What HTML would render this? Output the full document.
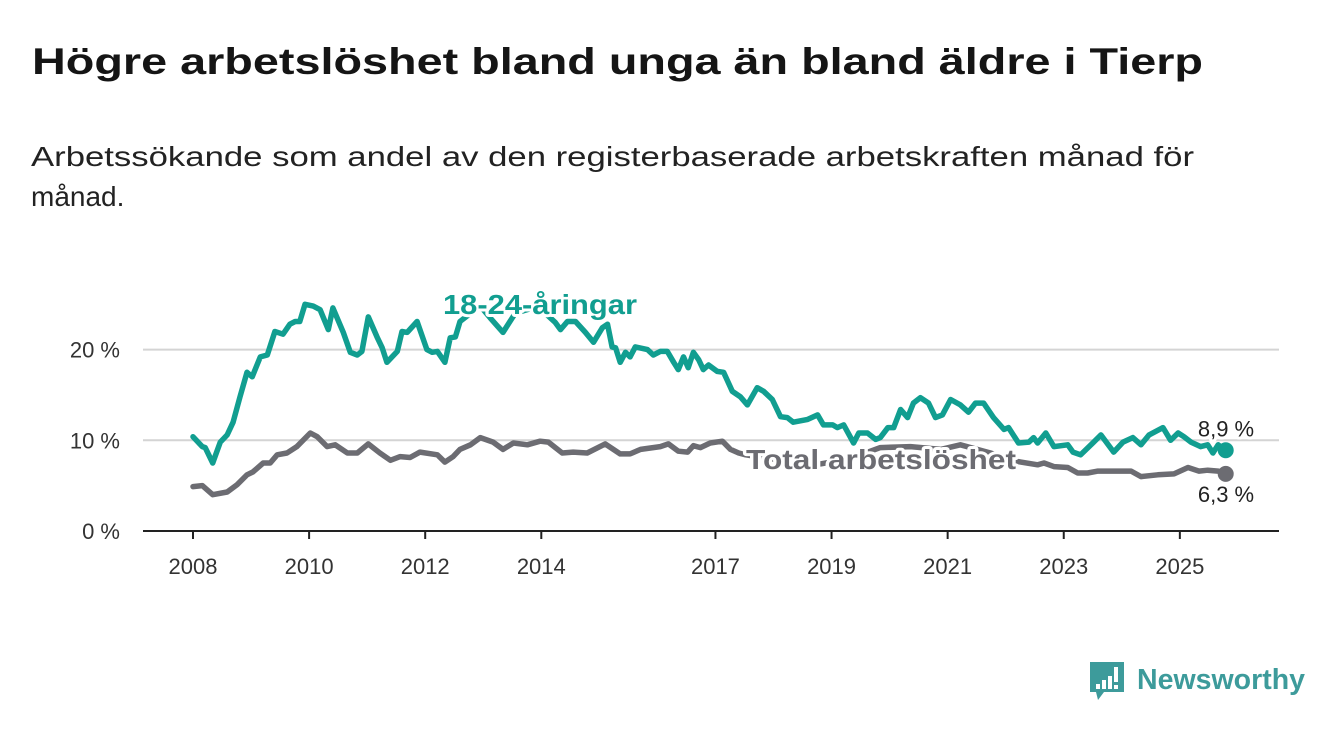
<!DOCTYPE html>
<html><head><meta charset="utf-8">
<style>
body{margin:0;background:#fff;font-family:"Liberation Sans",sans-serif;}
svg{display:block}
</style></head>
<body>
<svg id="chart" width="1340" height="734" viewBox="0 0 1340 734">
  <text x="32" y="74" font-size="37" font-weight="bold" fill="#151515" textLength="1171" lengthAdjust="spacingAndGlyphs">Högre arbetslöshet bland unga än bland äldre i Tierp</text>
  <text x="31" y="166" font-size="28" fill="#222" textLength="1163" lengthAdjust="spacingAndGlyphs">Arbetssökande som andel av den registerbaserade arbetskraften månad för</text>
  <text x="31" y="206" font-size="28" fill="#222">månad.</text>
  <g id="grid"></g>
  <g id="axes"></g>
  <g id="series"></g>
  <g id="labels"></g>
  <g>
    <path d="M1090 662 h34 v30 h-20 l-6 8 l-2 -8 h-6 z" fill="#3d9b9b"/>
    <rect x="1096" y="684" width="4" height="5" fill="#fff"/>
    <rect x="1102" y="680" width="4" height="9" fill="#fff"/>
    <rect x="1108" y="676" width="4" height="13" fill="#fff"/>
    <rect x="1114" y="667" width="4" height="15" fill="#fff"/>
    <rect x="1114" y="685" width="4" height="4" fill="#fff"/>
    <text x="1137" y="689" font-size="29" font-weight="bold" fill="#3d9b9b" textLength="168" lengthAdjust="spacingAndGlyphs">Newsworthy</text>
  </g>
</svg>
<script>
const yTicks = [0, 10, 20];
const xTicks = [2008, 2010, 2012, 2014, 2017, 2019, 2021, 2023, 2025];
const youthDates = [2008.00,2008.16,2008.21,2008.34,2008.47,2008.59,2008.69,2008.81,2008.93,2009.02,2009.16,2009.28,2009.41,2009.55,2009.67,2009.76,2009.84,2009.93,2010.07,2010.19,2010.33,2010.41,2010.59,2010.71,2010.83,2010.91,2011.02,2011.17,2011.26,2011.34,2011.52,2011.60,2011.69,2011.86,2012.03,2012.12,2012.21,2012.34,2012.43,2012.52,2012.60,2012.78,2012.95,2013.12,2013.34,2013.55,2013.81,2014.07,2014.24,2014.33,2014.45,2014.59,2014.76,2014.90,2015.05,2015.14,2015.22,2015.28,2015.36,2015.45,2015.53,2015.62,2015.83,2015.93,2016.05,2016.17,2016.28,2016.36,2016.45,2016.53,2016.62,2016.71,2016.79,2016.88,2017.03,2017.14,2017.29,2017.43,2017.55,2017.72,2017.83,2017.98,2018.12,2018.24,2018.34,2018.59,2018.76,2018.86,2019.02,2019.10,2019.21,2019.38,2019.47,2019.62,2019.76,2019.84,2019.97,2020.07,2020.19,2020.31,2020.41,2020.53,2020.67,2020.79,2020.91,2021.05,2021.22,2021.36,2021.48,2021.62,2021.79,2021.97,2022.05,2022.22,2022.40,2022.48,2022.55,2022.69,2022.83,2023.07,2023.16,2023.29,2023.50,2023.64,2023.86,2024.02,2024.19,2024.33,2024.47,2024.71,2024.84,2024.97,2025.07,2025.19,2025.36,2025.48,2025.57,2025.66,2025.79];
const youthValues = [10.4,9.3,9.2,7.5,9.8,10.6,12,14.8,17.5,17,19.2,19.4,22,21.7,22.8,23.1,23.1,25,24.8,24.4,22.2,24.6,21.9,19.7,19.4,19.8,23.6,21.4,20.2,18.6,19.8,22,21.9,23.1,20,19.7,19.8,18.6,21.3,21.4,23.1,24,24.8,23.5,21.9,24,24.5,24,23,22.2,23.1,23.1,21.9,20.8,22.4,22.8,20.3,20.2,18.6,19.7,19.2,20.3,20,19.4,19.8,19.8,18.6,17.8,19.2,18,19.7,18.9,17.8,18.3,17.6,17.5,15.4,14.8,13.9,15.8,15.4,14.5,12.6,12.5,12,12.3,12.8,11.7,11.7,11.4,11.7,9.7,10.8,10.8,10.1,10.3,11.4,11.4,13.4,12.5,14.1,14.7,14.1,12.5,12.8,14.5,13.9,13.1,14.1,14.1,12.5,11.2,11.4,9.7,9.8,10.3,9.7,10.8,9.3,9.5,8.7,8.4,9.7,10.6,8.7,9.8,10.3,9.5,10.6,11.4,10,10.8,10.4,9.8,9.3,9.5,8.6,9.5,8.9];
const totalDates = [2008.00,2008.16,2008.34,2008.59,2008.76,2008.93,2009.03,2009.21,2009.33,2009.45,2009.62,2009.79,2010.02,2010.14,2010.31,2010.45,2010.66,2010.83,2011.02,2011.22,2011.40,2011.57,2011.74,2011.91,2012.21,2012.34,2012.48,2012.60,2012.78,2012.95,2013.17,2013.34,2013.52,2013.76,2013.98,2014.12,2014.36,2014.55,2014.79,2015.10,2015.36,2015.53,2015.71,2016.05,2016.19,2016.36,2016.52,2016.62,2016.74,2016.91,2017.12,2017.26,2017.40,2017.52,2018.12,2018.81,2019.33,2019.84,2020.36,2020.88,2021.22,2021.74,2022.09,2022.26,2022.55,2022.66,2022.83,2023.07,2023.24,2023.41,2023.59,2023.86,2024.16,2024.33,2024.62,2024.90,2025.14,2025.33,2025.48,2025.66,2025.79];
const totalValues = [4.9,5.0,4.0,4.3,5.1,6.2,6.5,7.5,7.5,8.4,8.6,9.3,10.8,10.4,9.3,9.5,8.6,8.6,9.6,8.6,7.8,8.2,8.1,8.7,8.4,7.6,8.2,9.0,9.5,10.3,9.8,9.0,9.7,9.5,9.9,9.8,8.6,8.7,8.6,9.6,8.5,8.5,9.0,9.3,9.6,8.8,8.7,9.4,9.2,9.7,9.9,9.0,8.6,8.4,7.8,7.4,8.0,9.2,9.3,9.0,9.5,8.6,7.8,7.6,7.3,7.5,7.1,7.0,6.4,6.4,6.6,6.6,6.6,6.0,6.2,6.3,7.0,6.6,6.7,6.6,6.3];

const NS = "http://www.w3.org/2000/svg";
const X0 = 193, PXY = 58.05, Y0 = 531, PXV = 9.07;
const xs = d => X0 + (d - 2008) * PXY;
const ys = v => Y0 - v * PXV;
function mk(tag, attrs, parent) {
  const e = document.createElementNS(NS, tag);
  for (const k in attrs) e.setAttribute(k, attrs[k]);
  parent.appendChild(e);
  return e;
}
const grid = document.getElementById('grid');
const axes = document.getElementById('axes');
yTicks.forEach(t => {
  if (t > 0) {
    const g = mk('line', {x1: 143, x2: 1279, y1: ys(t), y2: ys(t), stroke: '#d4d4d4', 'stroke-width': 2}, grid);
    
    
  }
  const l = mk('text', {x: 120, y: ys(t) + 8, 'font-size': 22, fill: '#333', 'text-anchor': 'end'}, axes);
  l.textContent = t + ' %';
  
  
});
const ax = mk('line', {x1: 143, x2: 1279, y1: Y0, y2: Y0, stroke: '#222', 'stroke-width': 2}, axes);


xTicks.forEach(t => {
  const tk = mk('line', {x1: xs(t), x2: xs(t), y1: Y0, y2: Y0 + 8, stroke: '#222', 'stroke-width': 2}, axes);
  
  
  const l = mk('text', {x: xs(t), y: Y0 + 43, 'font-size': 22, fill: '#333', 'text-anchor': 'middle'}, axes);
  l.textContent = t;
  
  
});
const series = document.getElementById('series');
function drawLine(dates, vals, color, name) {
  const d = dates.map((t, i) => (i ? 'L' : 'M') + xs(t).toFixed(1) + ' ' + ys(vals[i]).toFixed(1)).join(' ');
  const p = mk('path', {d: d, fill: 'none', stroke: color, 'stroke-width': 5.5, 'stroke-linejoin': 'round', 'stroke-linecap': 'round'}, series);
  
  
  const n = dates.length - 1;
  const c = mk('circle', {cx: xs(dates[n]), cy: ys(vals[n]), r: 8, fill: color}, series);
  
  
}
drawLine(totalDates, totalValues, '#6c6c72', 'total');
drawLine(youthDates, youthValues, '#119e90', 'youth');
const labels = document.getElementById('labels');
function lab(x, y, txt, opts, name) {
  const t = mk('text', Object.assign({x: x, y: y, 'paint-order': 'stroke', stroke: '#fff', 'stroke-width': 6, 'stroke-linejoin': 'round'}, opts), labels);
  t.textContent = txt;
  
  
}
lab(443, 314, '18-24-åringar', {'font-size': 28, 'font-weight': 'bold', fill: '#119e90', textLength: 194, lengthAdjust: 'spacingAndGlyphs'}, 'youth-series-label');
lab(746, 469, 'Total arbetslöshet', {'font-size': 28, 'font-weight': 'bold', fill: '#6c6c72', textLength: 270, lengthAdjust: 'spacingAndGlyphs'}, 'total-series-label');
const ny = youthValues.length - 1, nt = totalValues.length - 1;
lab(1226, ys(youthValues[ny]) - 14, youthValues[ny].toFixed(1).replace('.', ',') + ' %', {'font-size': 22, fill: '#222', 'text-anchor': 'middle'}, 'youth-end-value');
lab(1226, ys(totalValues[nt]) + 28, totalValues[nt].toFixed(1).replace('.', ',') + ' %', {'font-size': 22, fill: '#222', 'text-anchor': 'middle'}, 'total-end-value');
</script>
</body></html>
